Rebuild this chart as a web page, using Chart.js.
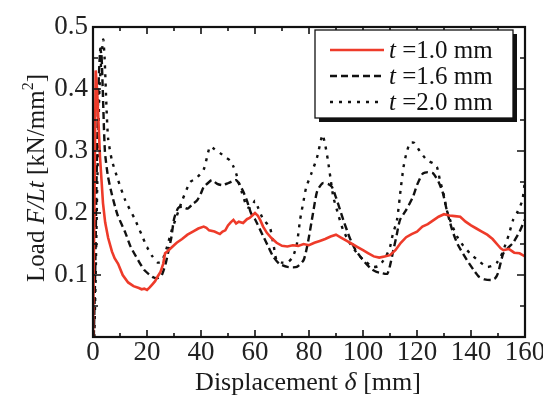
<!DOCTYPE html>
<html>
<head>
<meta charset="utf-8">
<script src="https://cdn.jsdelivr.net/npm/chart.js@4/dist/chart.umd.min.js"></script>
<style>
html,body{margin:0;padding:0;background:#fff;}
canvas{display:block;}
</style>
</head>
<body>
<canvas id="c" width="543" height="404"></canvas>
<script>
// ---- data ----
const seriesLabels = ["t =1.0 mm", "t =1.6 mm", "t =2.0 mm"];
const xTitle = ["Displacement ", "δ", " [mm]"];
const yTitle = ["Load ", "F/Lt", " [kN/mm", "2", "]"];

const disp10 = [0,0.5,1,1.5,2,2.6,3.2,3.7,4.5,5.6,7,8,9.3,11,13,15,17,18,19,20,21,22,23,24,25,26,26.7,27.5,28.5,30,31,33,35,37,39,41,42,43,45,47,48,49,50,51,52,53,54,55.6,57,58,59,60,61,62,63,64.4,66,68,70,72,74,76,78,80,82,84,86,88,90,92,94,96,98,100,102,104,106,108,110,112,114,116,118,120,122,124,126,128,130,132,134,136,138,140,142,144,146,148,150,151,152,154,156,158,160];
const load10 = [0,0.2,0.43,0.40,0.35,0.29,0.25,0.216,0.185,0.16,0.138,0.127,0.118,0.1,0.088,0.082,0.079,0.077,0.078,0.076,0.08,0.085,0.09,0.098,0.105,0.118,0.135,0.138,0.142,0.148,0.152,0.158,0.165,0.17,0.175,0.178,0.176,0.172,0.17,0.166,0.17,0.172,0.18,0.185,0.189,0.183,0.186,0.184,0.19,0.192,0.196,0.2,0.196,0.188,0.178,0.168,0.16,0.152,0.147,0.146,0.148,0.147,0.15,0.148,0.152,0.155,0.158,0.162,0.165,0.16,0.155,0.15,0.145,0.14,0.135,0.13,0.128,0.13,0.132,0.14,0.152,0.161,0.166,0.17,0.178,0.182,0.188,0.194,0.198,0.196,0.195,0.194,0.186,0.18,0.175,0.17,0.165,0.158,0.148,0.143,0.14,0.142,0.136,0.135,0.13];

const disp16 = [0.3,0.8,1.3,2,2.7,3.2,3.6,4.4,5.5,7,9,12,14,16.7,19,22,24,25.5,27,28,29,30,31.5,33,35,37,38.5,40,41,43,44,46,48,50,52,53,54,55.6,57,58.5,60,62,63,65,66.7,69,72,75.5,78,79.5,81.5,83,85,87,88.5,90,91.5,93,95,97,100,103,105,107,109,110,111,112.5,113.7,116,118.5,120,122,124,126,128,129.6,131,133,135,138.5,141,143,145,147.6,149,150,151,152,154,155.6,158,160];
const load16 = [0,0.1,0.25,0.4,0.465,0.45,0.4,0.30,0.26,0.23,0.198,0.168,0.145,0.124,0.108,0.097,0.095,0.1,0.12,0.14,0.16,0.19,0.208,0.21,0.207,0.215,0.22,0.232,0.242,0.25,0.253,0.247,0.245,0.248,0.252,0.253,0.248,0.235,0.22,0.2,0.19,0.172,0.163,0.145,0.13,0.118,0.113,0.113,0.124,0.15,0.2,0.235,0.248,0.247,0.242,0.225,0.205,0.185,0.161,0.142,0.124,0.11,0.105,0.103,0.102,0.115,0.135,0.165,0.189,0.205,0.226,0.245,0.263,0.266,0.264,0.25,0.232,0.205,0.173,0.15,0.124,0.108,0.097,0.093,0.092,0.095,0.103,0.12,0.135,0.145,0.152,0.17,0.19];

const disp20 = [0.5,1,1.6,2.4,3.3,3.8,4.3,5,5.6,7,9.3,12,15.5,18,20,22,24,25.5,27.4,29,31,33,36,38,41,43.3,45,47,49,50.7,52,53,55,57,58.5,60,61,63,65.5,67,68,70,72,74,75.5,76.7,78,79,81,83,85,86,87,88,89,91,92.6,95,97.8,100,103.7,105.5,107,108.5,110,111,112.6,114,115,116,117.4,119,121,123.7,126,127.4,128.5,130,131,133,135,137,139.6,143,146,148,149.6,151,152,154,155.6,157,159,160];
const load20 = [0,0.1,0.25,0.4,0.46,0.48,0.45,0.37,0.32,0.285,0.253,0.22,0.19,0.165,0.145,0.13,0.12,0.122,0.145,0.17,0.195,0.22,0.25,0.255,0.27,0.307,0.303,0.297,0.29,0.285,0.275,0.264,0.235,0.21,0.208,0.22,0.21,0.19,0.177,0.145,0.124,0.12,0.12,0.129,0.15,0.189,0.22,0.242,0.265,0.29,0.326,0.31,0.285,0.255,0.226,0.195,0.173,0.152,0.135,0.125,0.113,0.114,0.12,0.13,0.145,0.165,0.189,0.24,0.274,0.295,0.313,0.313,0.3,0.285,0.28,0.274,0.253,0.228,0.205,0.18,0.161,0.148,0.135,0.122,0.113,0.115,0.12,0.13,0.14,0.165,0.189,0.2,0.22,0.253];

const xTickStep = 20, yTickStep = 0.1;

function pts(xs, ys){ return xs.map((x,i)=>({x:x, y:ys[i]})); }

const SERIF = '"Liberation Serif","DejaVu Serif",serif';

// frame + inward ticks on all four sides
const framePlugin = {
  id:'frame',
  afterDatasetsDraw(chart){
    const {ctx, chartArea:a, scales:{x, y}} = chart;
    ctx.save();
    ctx.strokeStyle = '#111';
    ctx.lineWidth = 2.2;
    ctx.strokeRect(a.left, a.top, a.right-a.left, a.bottom-a.top);
    ctx.lineWidth = 1.6;
    const xt = x.ticks.map(t=>t.value);
    const yt = y.ticks.map(t=>t.value);
    const xm = [], ym = [];
    for(let i=0;i<xt.length-1;i++) xm.push((xt[i]+xt[i+1])/2);
    for(let i=0;i<yt.length-1;i++) ym.push((yt[i]+yt[i+1])/2);
    ctx.beginPath();
    const xTick = (v,len)=>{const p=x.getPixelForValue(v); ctx.moveTo(p,a.bottom); ctx.lineTo(p,a.bottom-len); ctx.moveTo(p,a.top); ctx.lineTo(p,a.top+len);};
    const yTick = (v,len)=>{const p=y.getPixelForValue(v); ctx.moveTo(a.left,p); ctx.lineTo(a.left+len,p); ctx.moveTo(a.right,p); ctx.lineTo(a.right-len,p);};
    xt.forEach(v=>xTick(v,7)); xm.forEach(v=>xTick(v,4));
    yt.forEach(v=>yTick(v,8)); ym.forEach(v=>yTick(v,5));
    ctx.stroke();
    ctx.restore();
  },
  afterDraw(chart){
    const {ctx, chartArea:a} = chart;
    ctx.save();
    ctx.fillStyle = '#1a1a1a';
    ctx.textBaseline = 'alphabetic';
    // x title
    const fx = 26;
    const partsX = [[xTitle[0],'normal'],[xTitle[1],'italic'],[xTitle[2],'normal']];
    let w = 0;
    partsX.forEach(p=>{ctx.font = p[1]+' '+fx+'px '+SERIF; w += ctx.measureText(p[0]).width;});
    let cx = 308 - w/2;
    partsX.forEach(p=>{ctx.font = p[1]+' '+fx+'px '+SERIF; ctx.fillText(p[0], cx, 390); cx += ctx.measureText(p[0]).width;});
    // y title (rotated)
    const fy = 25;
    const partsY = [[yTitle[0],'normal',fy,0],[yTitle[1],'italic',fy,0],[yTitle[2],'normal',fy,0],[yTitle[3],'normal',16,-11],[yTitle[4],'normal',fy,0]];
    w = 0;
    partsY.forEach(p=>{ctx.font = p[1]+' '+p[2]+'px '+SERIF; w += ctx.measureText(p[0]).width;});
    ctx.translate(44, 178);
    ctx.rotate(-Math.PI/2);
    cx = -w/2;
    partsY.forEach(p=>{ctx.font = p[1]+' '+p[2]+'px '+SERIF; ctx.fillText(p[0], cx, p[3]); cx += ctx.measureText(p[0]).width;});
    ctx.restore();

    // legend box with drop shadow
    ctx.save();
    const bx = 315, by = 30, bw = 198, bh = 88;
    ctx.fillStyle = '#111';
    ctx.fillRect(bx+4, by+4, bw, bh);
    ctx.fillStyle = '#fff';
    ctx.fillRect(bx, by, bw, bh);
    ctx.strokeStyle = '#111';
    ctx.lineWidth = 1.3;
    ctx.strokeRect(bx, by, bw, bh);
    const rows = [50, 76, 102];
    chart.data.datasets.forEach((ds,i)=>{
      const yy = rows[i];
      ctx.beginPath();
      ctx.setLineDash(ds.borderDash || []);
      ctx.strokeStyle = ds.borderColor;
      ctx.lineWidth = ds.borderWidth;
      ctx.moveTo(330, yy); ctx.lineTo(384, yy);
      ctx.stroke();
      ctx.setLineDash([]);
      const lab = ds.label;
      ctx.fillStyle = '#111';
      ctx.textBaseline = 'middle';
      ctx.font = 'italic 25px '+SERIF;
      ctx.fillText(lab.slice(0,1), 389, yy+1);
      const tw = ctx.measureText(lab.slice(0,1)).width;
      ctx.font = 'normal 25px '+SERIF;
      ctx.fillText(lab.slice(1), 389+tw, yy+1);
    });
    ctx.restore();
  }
};

new Chart(document.getElementById('c'), {
  type:'line',
  data:{
    datasets:[
      {label:seriesLabels[0], data:pts(disp10, load10), borderColor:'#ee3b2a', borderWidth:2.6, pointRadius:0, tension:0, fill:false},
      {label:seriesLabels[1], data:pts(disp16, load16), borderColor:'#111', borderWidth:2.4, borderDash:[7,4], pointRadius:0, tension:0.2, fill:false},
      {label:seriesLabels[2], data:pts(disp20, load20), borderColor:'#111', borderWidth:2.4, borderDash:[3,6], pointRadius:0, tension:0.2, fill:false}
    ]
  },
  options:{
    responsive:false,
    animation:false,
    events:[],
    layout:{padding:{top:27, right:18, left:0, bottom:0}},
    plugins:{legend:{display:false}, tooltip:{enabled:false}},
    scales:{
      x:{
        type:'linear', min:0, max:160,
        ticks:{stepSize:xTickStep, color:'#222', font:{family:SERIF, size:27}, padding:0, maxRotation:0},
        grid:{display:false, drawTicks:false},
        border:{display:false},
        afterFit(s){ s.height = 67; s.paddingLeft = 0; s.paddingRight = 0; }
      },
      y:{
        type:'linear', min:0, max:0.5,
        ticks:{stepSize:yTickStep, color:'#222', font:{family:SERIF, size:27}, padding:5,
          callback:(v)=> v===0 ? '' : v.toFixed(1)},
        grid:{display:false, drawTicks:false},
        border:{display:false},
        afterFit(s){ s.width = 93; s.paddingTop = 0; s.paddingBottom = 0; }
      }
    }
  },
  plugins:[framePlugin]
});
</script>
</body>
</html>
